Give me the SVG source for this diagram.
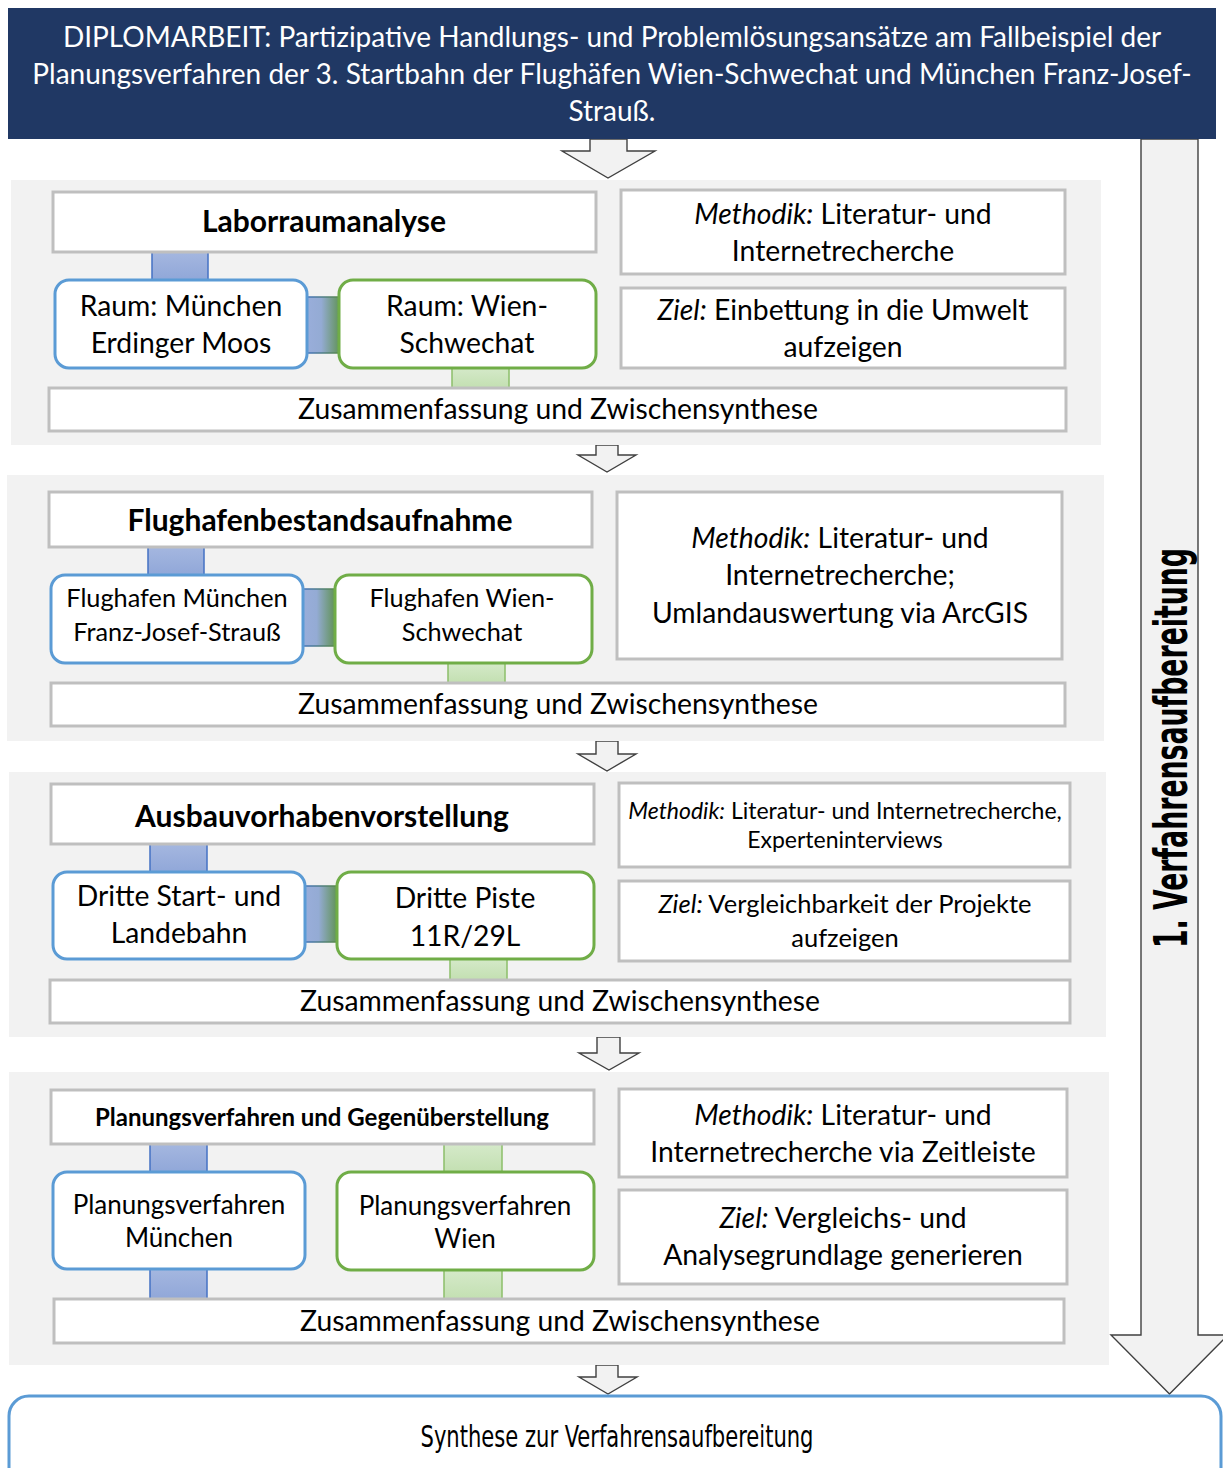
<svg xmlns="http://www.w3.org/2000/svg" width="1223" height="1468" viewBox="0 0 1223 1468">
  <defs>
    <linearGradient id="gBlue" x1="0" y1="0" x2="0" y2="1">
      <stop offset="0" stop-color="#a6b8e0"/>
      <stop offset="1" stop-color="#8fa6d8"/>
    </linearGradient>
    <linearGradient id="gGreen" x1="0" y1="0" x2="0" y2="1">
      <stop offset="0" stop-color="#d6eacb"/>
      <stop offset="1" stop-color="#c2dfb0"/>
    </linearGradient>
    <linearGradient id="gMix" x1="0" y1="0" x2="1" y2="0">
      <stop offset="0" stop-color="#9aaedb"/>
      <stop offset="0.45" stop-color="#94abd4"/>
      <stop offset="1" stop-color="#5e9150"/>
    </linearGradient>
    <linearGradient id="gMixEdge" x1="0" y1="0" x2="1" y2="0">
      <stop offset="0" stop-color="#4472c4"/>
      <stop offset="1" stop-color="#5a8a46"/>
    </linearGradient>
    <style>
      .sec { fill: #f2f2f2; }
      .box { fill: #ffffff; stroke: #bfbfbf; stroke-width: 3; }
      .mu { fill: #ffffff; stroke: #5b9bd5; stroke-width: 3; }
      .wi { fill: #ffffff; stroke: #70ad47; stroke-width: 3; }
      .cb { fill: url(#gBlue); stroke: #4472c4; stroke-width: 1.5; }
      .cg { fill: url(#gGreen); stroke: #8cbf6a; stroke-width: 1.5; }
      .cm { fill: url(#gMix); stroke: url(#gMixEdge); stroke-width: 1.5; }
      .arr { fill: #f2f2f2; stroke: #404040; stroke-width: 1.4; stroke-linejoin: miter; }
      text { font-family: Lato, "Noto Sans", "Liberation Sans", sans-serif; fill: #000000; text-anchor: middle; }
      .t27 { font-size: 28.3px; }
      .t25 { font-size: 25.3px; }
      .t26 { font-size: 26px; }
      .t22 { font-size: 23px; }
      .z3 { font-size: 25.5px; }
      .hd { font-size: 30px; font-weight: bold; }
      .hds { font-size: 24px; font-weight: bold; }
      .ti { font-size: 28px; fill: #ffffff; }
      .cond { font-family: "Liberation Sans Narrow", "DejaVu Sans Condensed", "Liberation Sans", sans-serif; font-stretch: condensed; }
      .it { font-style: italic; }
    </style>
  </defs>

  <!-- flow arrows drawn first so panels cover the shaft tops -->
  <g id="connectors">
    <polygon class="arr" points="590,139 627,139 627,151 655,151 608,178 562,151 590,151"/>
    <polygon class="arr" points="596,445 618,445 618,455 636,455 607,472 578,455 596,455"/>
    <polygon class="arr" points="596,741 618,741 618,754 636,754 607,771 578,754 596,754"/>
    <polygon class="arr" points="597,1037 620,1037 620,1053 639,1053 609,1070 579,1053 597,1053"/>
    <polygon class="arr" points="596,1365 618,1365 618,1377 637,1377 608,1394 579,1377 596,1377"/>
    <polygon class="arr" points="1141,139 1198,139 1198,1335 1228,1335 1169.5,1394 1111,1335 1141,1335"/>
  </g>

  <g id="title">
    <rect x="8" y="8" width="1208" height="131" fill="#203864"/>
    <text class="ti" x="612" y="47">DIPLOMARBEIT: Partizipative Handlungs- und Problemlösungsansätze am Fallbeispiel der</text>
    <text class="ti" x="612" y="84">Planungsverfahren der 3. Startbahn der Flughäfen Wien-Schwechat und München Franz-Josef-</text>
    <text class="ti" x="612" y="121">Strauß.</text>
  </g>

  <!-- panel backgrounds -->
  <rect class="sec" x="11" y="180" width="1090" height="265"/>
  <rect class="sec" x="7" y="475" width="1097" height="266"/>
  <rect class="sec" x="9" y="772" width="1097" height="265"/>
  <rect class="sec" x="9" y="1072" width="1100" height="293"/>

  <!-- connector bars between boxes -->
  <g id="bars">
    <rect class="cb" x="152" y="250" width="56" height="32"/>
    <rect class="cm" x="305" y="297" width="36" height="56"/>
    <rect class="cg" x="452" y="366" width="57" height="23"/>

    <rect class="cb" x="148" y="545" width="56" height="32"/>
    <rect class="cm" x="301" y="589" width="35" height="57"/>
    <rect class="cg" x="448" y="661" width="57" height="23"/>

    <rect class="cb" x="150" y="842" width="57" height="32"/>
    <rect class="cm" x="303" y="886" width="35" height="56"/>
    <rect class="cg" x="450" y="957" width="57" height="24"/>

    <rect class="cb" x="150" y="1142" width="57" height="32"/>
    <rect class="cb" x="150" y="1267" width="57" height="34"/>
    <rect class="cg" x="444" y="1142" width="58" height="32"/>
    <rect class="cg" x="444" y="1268" width="58" height="33"/>
  </g>

  <!-- 1: Laborraumanalyse -->
  <g id="laborraumanalyse">
    <rect class="box" x="53" y="192" width="543" height="60"/>
    <text class="hd" x="324" y="232">Laborraumanalyse</text>
  </g>
  <g id="raum-muenchen">
    <rect class="mu" x="55" y="280" width="252" height="88" rx="14"/>
    <text class="t27" x="181" y="316">Raum: München</text>
    <text class="t27" x="181" y="353">Erdinger Moos</text>
  </g>
  <g id="raum-wien">
    <rect class="wi" x="339" y="280" width="257" height="88" rx="14"/>
    <text class="t27" x="467" y="316">Raum: Wien-</text>
    <text class="t27" x="467" y="353">Schwechat</text>
  </g>
  <g id="methodik-1">
    <rect class="box" x="621" y="190" width="444" height="84"/>
    <text class="t27" x="843" y="224"><tspan class="it">Methodik:</tspan> Literatur- und</text>
    <text class="t27" x="843" y="261">Internetrecherche</text>
  </g>
  <g id="ziel-1">
    <rect class="box" x="621" y="288" width="444" height="80"/>
    <text class="t27" x="843" y="320"><tspan class="it">Ziel:</tspan> Einbettung in die Umwelt</text>
    <text class="t27" x="843" y="357">aufzeigen</text>
  </g>
  <g id="synthese-1">
    <rect class="box" x="49" y="388" width="1017" height="43"/>
    <text class="t27" x="558" y="419">Zusammenfassung und Zwischensynthese</text>
  </g>

  <!-- 2: Flughafenbestandsaufnahme -->
  <g id="flughafenbestandsaufnahme">
    <rect class="box" x="49" y="492" width="543" height="55"/>
    <text class="hd" x="320" y="531">Flughafenbestandsaufnahme</text>
  </g>
  <g id="flughafen-muenchen">
    <rect class="mu" x="51" y="575" width="252" height="88" rx="14"/>
    <text class="t25" x="177" y="607">Flughafen München</text>
    <text class="t25" x="177" y="641">Franz-Josef-Strauß</text>
  </g>
  <g id="flughafen-wien">
    <rect class="wi" x="335" y="575" width="257" height="88" rx="14"/>
    <text class="t25" x="462" y="607">Flughafen Wien-</text>
    <text class="t25" x="462" y="641">Schwechat</text>
  </g>
  <g id="methodik-2">
    <rect class="box" x="617" y="492" width="445" height="167"/>
    <text class="t27" x="840" y="548"><tspan class="it">Methodik:</tspan> Literatur- und</text>
    <text class="t27" x="840" y="585">Internetrecherche;</text>
    <text class="t27" x="840" y="623">Umlandauswertung via ArcGIS</text>
  </g>
  <g id="synthese-2">
    <rect class="box" x="51" y="683" width="1014" height="43"/>
    <text class="t27" x="558" y="714">Zusammenfassung und Zwischensynthese</text>
  </g>

  <!-- 3: Ausbauvorhabenvorstellung -->
  <g id="ausbauvorhabenvorstellung">
    <rect class="box" x="51" y="784" width="543" height="60"/>
    <text class="hd" x="322" y="827">Ausbauvorhabenvorstellung</text>
  </g>
  <g id="dritte-startbahn">
    <rect class="mu" x="53" y="872" width="252" height="87" rx="14"/>
    <text class="t27" x="179" y="906">Dritte Start- und</text>
    <text class="t27" x="179" y="943">Landebahn</text>
  </g>
  <g id="dritte-piste">
    <rect class="wi" x="337" y="872" width="257" height="87" rx="14"/>
    <text class="t27" x="465" y="908">Dritte Piste</text>
    <text class="t27" x="465" y="946">11R/29L</text>
  </g>
  <g id="methodik-3">
    <rect class="box" x="619" y="783" width="451" height="84"/>
    <text class="t22" x="845" y="819"><tspan class="it">Methodik:</tspan> Literatur- und Internetrecherche,</text>
    <text class="t22" x="845" y="848">Experteninterviews</text>
  </g>
  <g id="ziel-3">
    <rect class="box" x="619" y="881" width="451" height="80"/>
    <text class="z3" x="845" y="913"><tspan class="it">Ziel:</tspan> Vergleichbarkeit der Projekte</text>
    <text class="z3" x="845" y="947">aufzeigen</text>
  </g>
  <g id="synthese-3">
    <rect class="box" x="50" y="980" width="1020" height="43"/>
    <text class="t27" x="560" y="1011">Zusammenfassung und Zwischensynthese</text>
  </g>

  <!-- 4: Planungsverfahren und Gegenüberstellung -->
  <g id="planungsverfahren">
    <rect class="box" x="51" y="1090" width="543" height="54"/>
    <text class="hds" x="322" y="1126">Planungsverfahren und Gegenüberstellung</text>
  </g>
  <g id="verfahren-muenchen">
    <rect class="mu" x="53" y="1172" width="252" height="97" rx="14"/>
    <text class="t26" x="179" y="1214">Planungsverfahren</text>
    <text class="t26" x="179" y="1247">München</text>
  </g>
  <g id="verfahren-wien">
    <rect class="wi" x="337" y="1172" width="257" height="98" rx="14"/>
    <text class="t26" x="465" y="1215">Planungsverfahren</text>
    <text class="t26" x="465" y="1248">Wien</text>
  </g>
  <g id="methodik-4">
    <rect class="box" x="619" y="1089" width="448" height="88"/>
    <text class="t27" x="843" y="1125"><tspan class="it">Methodik:</tspan> Literatur- und</text>
    <text class="t27" x="843" y="1162">Internetrecherche via Zeitleiste</text>
  </g>
  <g id="ziel-4">
    <rect class="box" x="619" y="1190" width="448" height="94"/>
    <text class="t27" x="843" y="1228"><tspan class="it">Ziel:</tspan> Vergleichs- und</text>
    <text class="t27" x="843" y="1265">Analysegrundlage generieren</text>
  </g>
  <g id="synthese-4">
    <rect class="box" x="54" y="1299" width="1010" height="44"/>
    <text class="t27" x="560" y="1331">Zusammenfassung und Zwischensynthese</text>
  </g>

  <!-- side label on the long arrow -->
  <g id="verfahrensaufbereitung-label">
    <text class="cond" x="0" y="0" font-size="46" font-weight="bold" textLength="400" lengthAdjust="spacingAndGlyphs" transform="translate(1187,748) rotate(-90)">1. Verfahrensaufbereitung</text>
  </g>

  <!-- final synthesis -->
  <g id="synthese-verfahrensaufbereitung">
    <rect class="mu" x="9" y="1396" width="1212" height="110" rx="20"/>
    <text class="cond" x="617" y="1447" font-size="31" textLength="393" lengthAdjust="spacingAndGlyphs">Synthese zur Verfahrensaufbereitung</text>
  </g>
</svg>
